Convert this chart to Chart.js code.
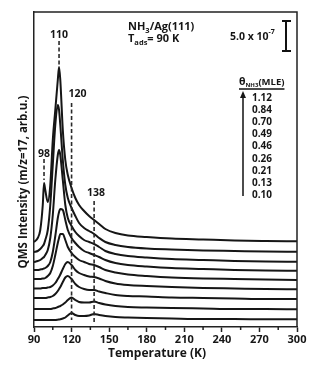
<!DOCTYPE html>
<html><head><meta charset="utf-8">
<script src="https://cdn.jsdelivr.net/npm/chart.js@4.4.1/dist/chart.umd.min.js"></script>
<style>html,body{margin:0;padding:0;background:#fff}#wrap{width:320px;height:365px;position:relative}</style>
</head><body><div id="wrap"><canvas id="c" width="320" height="365"></canvas></div>
<script>
// Temperature grid (K)
const temperatures = [90,93,95,97,98,99,101,103,105,107,109,110,111,113,115,117,120,123,126,130,134,138,142,147,155,165,180,200,225,250,275,300];
// Coverage labels (ML equivalent), top to bottom
const coverages = ['1.12','0.84','0.70','0.49','0.46','0.26','0.21','0.13','0.10'];
// Offset QMS intensity traces (arb.u.)
const trace112 = [85,89,97,122,144,137,125,142,187,217,247,260,247,197,167,152,139,129,122,116,111,107,103,98,94,91.5,90,88.5,87.5,86.5,86,85.7];
const trace084 = [75,76,78,81,83,87,97,122,162,202,222,217,202,167,142,129,119,111,104,99,96,93,89,85,82,80,78.5,77.5,76.5,76,75.5,75.3];
const trace070 = [65,66,67,69,70,72,77,89,112,147,172,177,172,147,122,109,101,95,91,87,85,83,80,76,73,71,69.5,68,67,66,65.5,65.3];
const trace049 = [57,57,57.5,58,58.5,59,61,65,75,91,109,115,118,117,107,97,89,84,80,76,74,72,70,67,64,62,60.5,59,58,57,56.5,56.3];
const trace046 = [48,48,48,48.5,48.5,49,51,54,61,72,84,89,93,93,87,80,74,70,67,65,63,62,60,57,54.5,52.5,51,49.5,48.5,48,47.5,47];
const trace026 = [38.5,38.5,38.5,39,39,39,39.5,40,41.5,44,48,50,52.5,58,63,65,62,57,54,52,50.5,50,48.5,46,43.5,42,41,40,39,38.5,38,37.7];
const trace021 = [29,29,29,29,29,29,29.5,30,31,33,36,38,40,45,49.5,51,48,43,40,38,37,37,35.5,34,32,31,30.5,29.5,29,28.5,28,28];
const trace013 = [18,18,18,18,18,18,18,18,18.5,19,20,20.5,21,22.5,24.5,27,29.5,27,25,24.5,24.5,25.5,24,22.5,21,20,19.5,19,18.5,18,18,17.7];
const trace010 = [7,7,7,7,7,7,7,7,7,7,7.3,7.5,7.7,8.5,9.5,11.5,14,12,11,11,11.5,13,12,11,10,9.5,9,8.5,8,8,7.7,7.7];
const traces = [trace112,trace084,trace070,trace049,trace046,trace026,trace021,trace013,trace010];
// Axis ticks
const xMajorTicks = [90,120,150,180,210,240,270,300];
const xMinorTicks = [105,135,165,195,225,255,285];
// Peak markers (K)
const peakTemps = [98,110,120,138];
const peakLabels = ['98','110','120','138'];

const FONT = '"Open Sans"';
const INK = '#161616';

const datasets = traces.map((tr, i) => ({
  label: coverages[i],
  data: temperatures.map((t, j) => ({x: t, y: tr[j]})),
  borderColor: INK,
  borderWidth: 2,
  pointRadius: 0,
  cubicInterpolationMode: 'monotone',
  fill: false
}));

const deco = {
  id: 'deco',
  afterDraw(chart) {
    const ctx = chart.ctx, ca = chart.chartArea;
    const xs = chart.scales.x, ys = chart.scales.y;
    ctx.save();
    ctx.strokeStyle = '#222';
    ctx.lineWidth = 1.5;
    // top and right frame
    ctx.beginPath();
    ctx.moveTo(ca.left, ca.top); ctx.lineTo(ca.right, ca.top); ctx.lineTo(ca.right, ca.bottom);
    ctx.stroke();
    // minor ticks
    ctx.beginPath();
    xMinorTicks.forEach(t => { const px = xs.getPixelForValue(t); ctx.moveTo(px, ca.bottom); ctx.lineTo(px, ca.bottom + 3); });
    ctx.stroke();

    // dashed peak lines
    const spans = {98: [168, 147], 110: [286, 260], 120: [224, 7], 138: [126, 5]};
    const labelOff = {98: [0, 170], 110: [0, 289], 120: [6, 230], 138: [2, 131]};
    ctx.setLineDash([4, 2.5]);
    ctx.strokeStyle = '#2a2a2a';
    ctx.lineWidth = 1.6;
    peakTemps.forEach(t => {
      const px = xs.getPixelForValue(t);
      ctx.beginPath();
      ctx.moveTo(px, ys.getPixelForValue(spans[t][0]));
      ctx.lineTo(px, ys.getPixelForValue(spans[t][1]));
      ctx.stroke();
    });
    ctx.setLineDash([]);
    ctx.fillStyle = INK;
    ctx.font = `bold 10.5px ${FONT}`;
    ctx.textAlign = 'center';
    ctx.textBaseline = 'alphabetic';
    peakTemps.forEach((t, i) => {
      const px = xs.getPixelForValue(t) + labelOff[t][0];
      ctx.fillText(peakLabels[i], px, ys.getPixelForValue(labelOff[t][1]));
    });

    // Title annotation
    ctx.textAlign = 'left';
    let x = 128;
    ctx.font = `bold 11px ${FONT}`;
    ctx.fillText('NH', x, 30); x += ctx.measureText('NH').width;
    ctx.font = `bold 7.5px ${FONT}`;
    ctx.fillText('3', x, 33); x += ctx.measureText('3').width;
    ctx.font = `bold 11px ${FONT}`;
    ctx.fillText('/Ag(111)', x, 30);
    x = 128;
    ctx.fillText('T', x, 42); x += ctx.measureText('T').width;
    ctx.font = `bold 7.5px ${FONT}`;
    ctx.fillText('ads', x, 45); x += ctx.measureText('ads').width;
    ctx.font = `bold 11px ${FONT}`;
    ctx.fillText('= 90 K', x, 42);

    // scale bar
    x = 230;
    ctx.font = `bold 10.5px ${FONT}`;
    ctx.fillText('5.0 x 10', x, 40); x += ctx.measureText('5.0 x 10').width;
    ctx.font = `bold 7px ${FONT}`;
    ctx.fillText('-7', x, 34);
    ctx.strokeStyle = '#111';
    ctx.lineWidth = 2;
    ctx.beginPath();
    ctx.moveTo(286, 21); ctx.lineTo(286, 51);
    ctx.moveTo(282, 21); ctx.lineTo(291, 21);
    ctx.moveTo(282, 51); ctx.lineTo(291, 51);
    ctx.stroke();

    // coverage legend
    x = 239;
    ctx.font = `bold 10.5px ${FONT}`;
    ctx.fillText('\u03B8', x, 85); x += ctx.measureText('\u03B8').width;
    ctx.font = `bold 6px ${FONT}`;
    ctx.fillText('NH3', x, 87); x += ctx.measureText('NH3').width;
    ctx.font = `bold 9.5px ${FONT}`;
    ctx.fillText('(MLE)', x, 85); x += ctx.measureText('(MLE)').width;
    ctx.lineWidth = 1.5;
    ctx.beginPath(); ctx.moveTo(239, 89); ctx.lineTo(x, 89); ctx.stroke();
    ctx.beginPath(); ctx.moveTo(243, 196); ctx.lineTo(243, 96); ctx.stroke();
    ctx.beginPath(); ctx.moveTo(243, 91); ctx.lineTo(240, 98); ctx.lineTo(246, 98); ctx.closePath(); ctx.fill();
    ctx.font = `bold 10px ${FONT}`;
    coverages.forEach((c, i) => ctx.fillText(c, 252, 100.5 + i * 12.2));

    // axis titles
    ctx.textAlign = 'center';
    ctx.font = `bold 12px ${FONT}`;
    ctx.fillText('Temperature (K)', 157, 357);
    ctx.translate(27, 182);
    ctx.rotate(-Math.PI / 2);
    ctx.font = `bold 11.5px ${FONT}`;
    ctx.fillText('QMS Intensity (m/z=17, arb.u.)', 0, 0);
    ctx.restore();
  }
};

new Chart(document.getElementById('c'), {
  type: 'line',
  data: {datasets},
  options: {
    responsive: false,
    animation: false,
    devicePixelRatio: 1,
    layout: {padding: {left: 34, right: 23, top: 12, bottom: 0}},
    plugins: {legend: {display: false}, tooltip: {enabled: false}},
    scales: {
      x: {
        type: 'linear', min: 90, max: 300,
        afterBuildTicks(s) { s.ticks = xMajorTicks.map(v => ({value: v})); },
        ticks: {font: {family: 'Open Sans', weight: 'bold', size: 11}, color: INK, padding: 1, maxRotation: 0, autoSkip: false},
        grid: {display: true, drawOnChartArea: false, drawTicks: true, tickLength: 5, color: '#222', tickWidth: 1.5},
        border: {display: true, color: '#222', width: 1.5},
        afterFit(s) { s.height = 38; }
      },
      y: {
        min: 0, max: 315,
        ticks: {display: false},
        grid: {display: false, drawTicks: false},
        border: {display: true, color: '#222', width: 1.5},
        afterFit(s) { s.width = 0; }
      }
    }
  },
  plugins: [deco]
});
</script></body></html>
